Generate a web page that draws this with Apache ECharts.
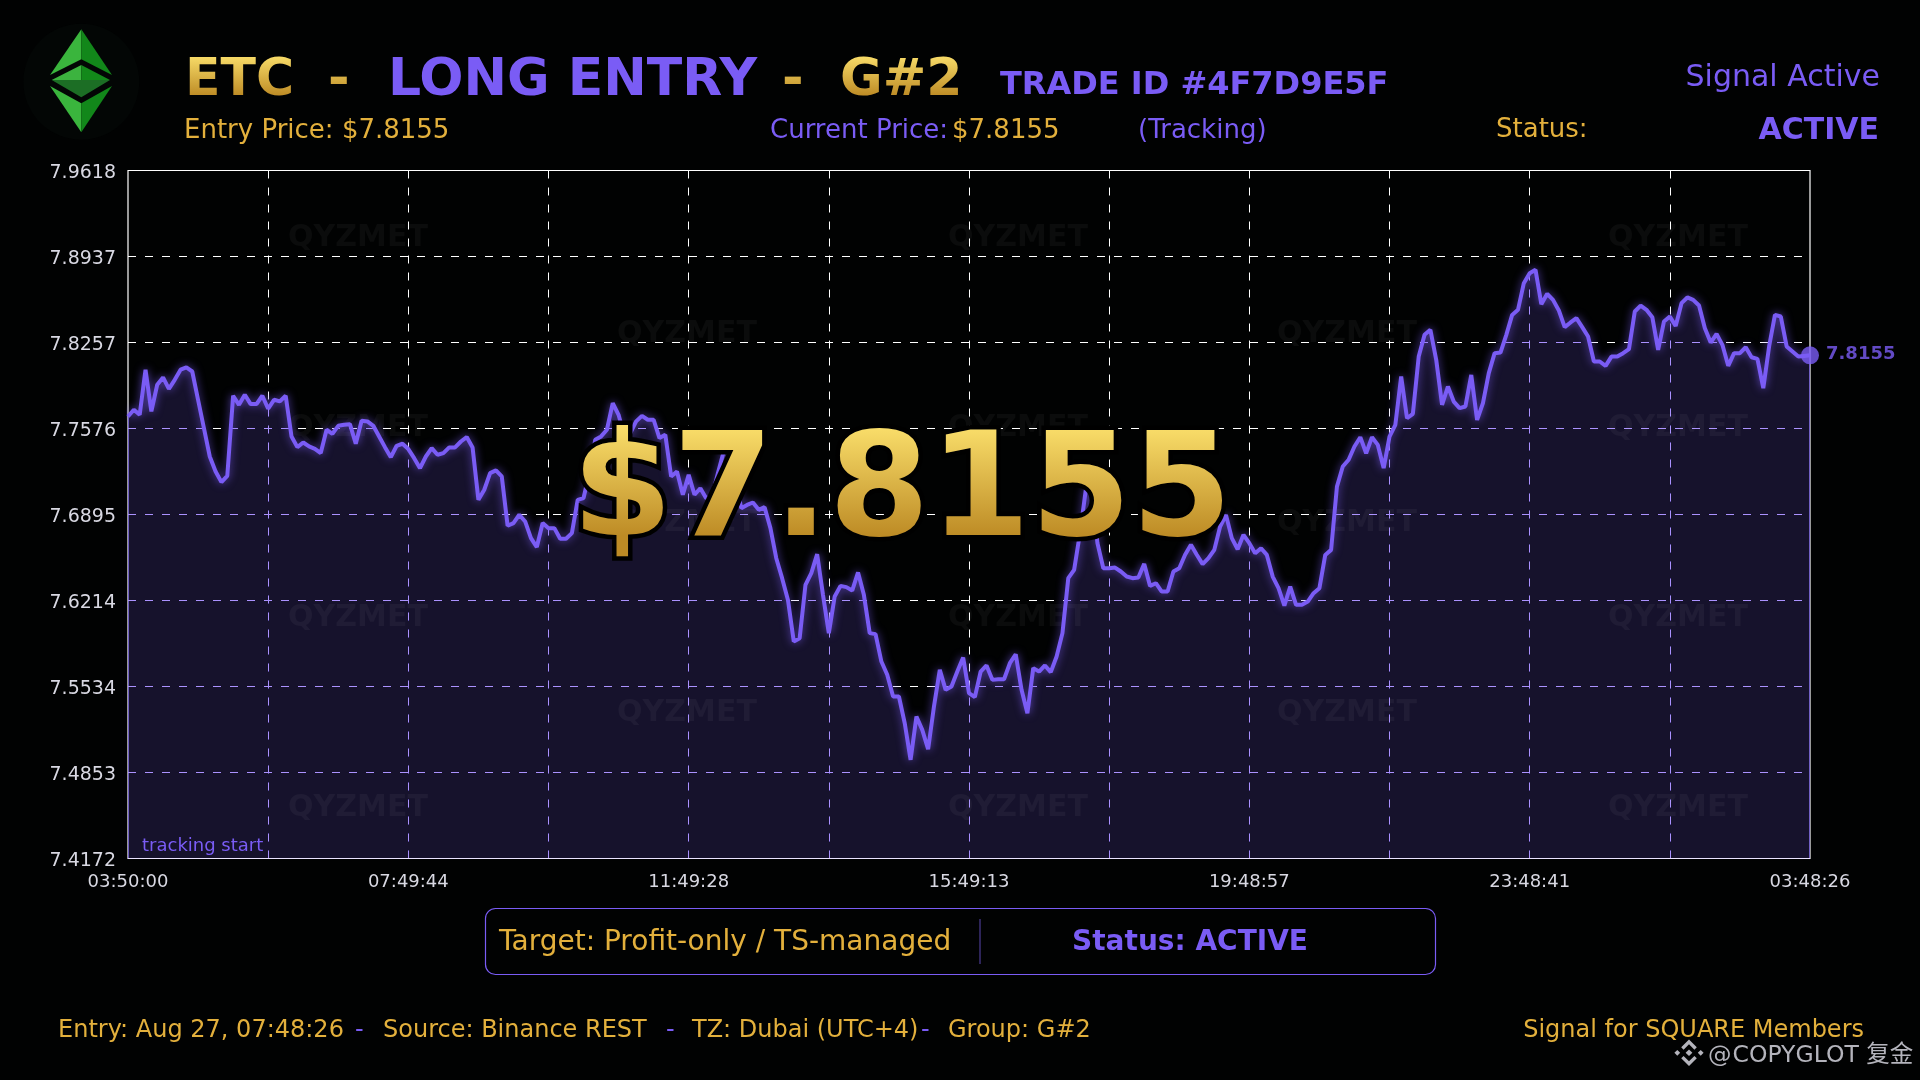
<!DOCTYPE html>
<html>
<head>
<meta charset="utf-8">
<title>ETC LONG ENTRY</title>
<style>html,body{margin:0;padding:0;background:#010202;width:1920px;height:1080px;overflow:hidden}#c{width:1920px;height:1080px}</style>
<script src="https://cdn.jsdelivr.net/npm/echarts@6/dist/echarts.min.js"></script>
</head>
<body>
<div id="c"></div>
<script>
const xTickLabels = ['03:50:00','07:49:44','11:49:28','15:49:13','19:48:57','23:48:41','03:48:26'];
const yTicks = [7.4172,7.4853,7.5534,7.6214,7.6895,7.7576,7.8257,7.8937,7.9618];
const prices = [
7.7671,7.7724,7.7684,7.8041,7.7711,7.7922,7.7980,7.7890,7.7961,7.8041,7.8059,7.8027,7.7803,7.7579,7.7354,7.7236,7.7151,7.7201,7.7835,7.7763,
7.7843,7.7769,7.7769,7.7835,7.7732,7.7803,7.7790,7.7835,7.7513,7.7428,7.7465,7.7434,7.7415,7.7381,7.7566,7.7534,7.7597,7.7605,7.7610,7.7455,
7.7637,7.7632,7.7597,7.7513,7.7428,7.7349,7.7439,7.7455,7.7413,7.7341,7.7262,7.7354,7.7420,7.7368,7.7381,7.7426,7.7426,7.7473,7.7508,7.7426,
7.7011,7.7091,7.7223,7.7244,7.7196,7.6806,7.6827,7.6893,7.6840,7.6708,7.6637,7.6827,7.6787,7.6787,7.6703,7.6703,7.6748,7.7011,7.7025,7.7223,
7.7486,7.7513,7.7566,7.7777,7.7684,7.7513,7.7539,7.7632,7.7676,7.7645,7.7645,7.7500,7.7526,7.7196,7.7235,7.7051,7.7209,7.7051,7.7103,7.7024,
7.7037,7.7222,7.7394,7.7433,7.7169,7.6945,7.6971,7.6990,7.6932,7.6953,7.6787,7.6549,7.6391,7.6219,7.5890,7.5916,7.6338,7.6431,7.6581,7.6259,
7.5956,7.6246,7.6330,7.6320,7.6293,7.6436,7.6259,7.5956,7.5948,7.5731,7.5626,7.5454,7.5454,7.5243,7.4953,7.5296,7.5190,7.5037,7.5375,7.5665,
7.5507,7.5533,7.5652,7.5763,7.5481,7.5449,7.5652,7.5700,7.5586,7.5591,7.5591,7.5718,7.5789,7.5507,7.5322,7.5679,7.5652,7.5700,7.5647,7.5771,
7.5956,7.6391,7.6457,7.6747,7.7090,7.7064,7.6668,7.6470,7.6470,7.6475,7.6444,7.6404,7.6391,7.6396,7.6504,7.6330,7.6351,7.6285,7.6285,7.6444,
7.6470,7.6576,7.6655,7.6576,7.6502,7.6549,7.6615,7.6800,7.6892,7.6708,7.6620,7.6734,7.6668,7.6589,7.6628,7.6575,7.6404,7.6312,7.6174,7.6325,
7.6180,7.6180,7.6206,7.6272,7.6312,7.6575,7.6615,7.7116,7.7275,7.7328,7.7433,7.7507,7.7380,7.7507,7.7446,7.7262,7.7512,7.7605,7.7987,7.7657,
7.7692,7.8145,7.8317,7.8357,7.8119,7.7763,7.7908,7.7789,7.7737,7.7750,7.8000,7.7644,7.7776,7.8014,7.8172,7.8177,7.8317,7.8475,7.8515,7.8726,
7.8805,7.8832,7.8560,7.8642,7.8594,7.8510,7.8378,7.8415,7.8449,7.8378,7.8304,7.8106,7.8106,7.8072,7.8145,7.8145,7.8172,7.8204,7.8502,7.8549,
7.8515,7.8457,7.8198,7.8423,7.8462,7.8388,7.8568,7.8613,7.8594,7.8549,7.8370,7.8256,7.8325,7.8238,7.8072,7.8172,7.8172,7.8219,7.8140,7.8127,
7.7895,7.8225,7.8475,7.8462,7.8225,7.8185,7.8145,7.8150,7.8155
];
const watermark = 'QYZMET';
const lastPrice = prices[prices.length - 1];

const PURPLE = '#7a5cf5', GOLD = '#e3b03c', FONT = '"DejaVu Sans","Noto Sans CJK SC",sans-serif';
const categories = prices.map((_, i) => i % 48 === 0 ? xTickLabels[i / 48] : '');

// gold text: the renderer only accepts string fills for text, so a marker colour is
// turned into a vertical gradient at the moment the real text is painted
const GOLD_TITLE = '#fbe06b', GOLD_BIG = '#fbe06a';
const proto = CanvasRenderingContext2D.prototype, nativeFill = proto.fillText;
function paintGold(ctx, t, x, y, m, y0, y1) {
  const g = ctx.createLinearGradient(0, y0, 0, y1);
  g.addColorStop(0, '#fbe06c');
  g.addColorStop(1, '#bd8b25');
  ctx.save();
  ctx.fillStyle = g;
  nativeFill.call(ctx, t, x, y, m);
  ctx.restore();
}
proto.fillText = function (t, x, y, m) {
  const f = this.fillStyle;
  if (f === GOLD_TITLE) return paintGold(this, t, x, y, m, 54, 96);
  if (f === GOLD_BIG) return paintGold(this, t, x, y, m, 424, 536);
  return m === undefined ? nativeFill.call(this, t, x, y) : nativeFill.call(this, t, x, y, m);
};

function T(text, x, base, size, fill, bold, align, extra) {
  return {
    type: 'text', silent: true, z: (extra && extra.z) || 50,
    style: Object.assign({
      text, x, y: base - 0.246 * size, fill,
      font: (bold ? 'bold ' : '') + size + 'px ' + FONT,
      textAlign: align || 'left', textVerticalAlign: 'middle'
    }, extra && extra.style)
  };
}
function poly(pts, fill) {
  return { type: 'polygon', silent: true, z: 50, shape: { points: pts }, style: { fill } };
}

const els = [];
// watermark grid
[[358, 235], [1018, 235], [1678, 235], [687, 331], [1347, 331], [358, 425], [1018, 425], [1678, 425],
 [687, 520], [1347, 520], [358, 615], [1018, 615], [1678, 615], [687, 710], [1347, 710], [358, 805], [1018, 805], [1678, 805]]
  .forEach(p => els.push(Object.assign(T(watermark, p[0], p[1] + 11, 30, 'rgba(255,255,255,0.045)', true, 'center'), { z: 3 })));

// logo
els.push({ type: 'circle', silent: true, z: 49, shape: { cx: 81.3, cy: 81.7, r: 58 }, style: { fill: '#030605' } });
els.push(poly([[81.3, 29.3], [50, 75], [81.3, 59.3]], '#3ab53d'));
els.push(poly([[81.3, 29.3], [112, 75], [81.3, 59.3]], '#12871a'));
els.push(poly([[81.3, 65], [51.7, 80], [81.3, 80]], '#3cb33f'));
els.push(poly([[81.3, 65], [110, 80], [81.3, 80]], '#13891a'));
els.push(poly([[51.7, 80], [110, 80], [81.3, 97.3]], '#1c6e25'));
els.push(poly([[50, 86], [81.3, 103.3], [81.3, 132.3]], '#3ab53d'));
els.push(poly([[112, 86], [81.3, 103.3], [81.3, 132.3]], '#12871a'));

// header
els.push(T('ETC', 185, 94, 52, GOLD_TITLE, true));
els.push(T('-', 328, 94, 52, GOLD_TITLE, true));
els.push(T('LONG ENTRY', 388, 94, 52, PURPLE, true));
els.push(T('-', 782, 94, 52, GOLD_TITLE, true));
els.push(T('G#2', 840, 94, 52, GOLD_TITLE, true));
els.push(T('TRADE ID #4F7D9E5F', 1000, 94, 32, PURPLE, true));
els.push(T('Signal Active', 1880, 86, 30, PURPLE, false, 'right'));
els.push(T('Entry Price: $7.8155', 184, 138, 26, GOLD));
els.push(T('Current Price:', 770, 138, 26, PURPLE));
els.push(T('$7.8155', 952, 138, 26, GOLD));
els.push(T('(Tracking)', 1138, 138, 26, PURPLE));
els.push(T('Status:', 1496, 137, 26, GOLD));
els.push(T('ACTIVE', 1879, 139, 30, PURPLE, true, 'right'));

// big price
els.push(T('$7.8155', 902, 533, 145, GOLD_BIG, true, 'center',
  { z: 60, style: { stroke: '#000', lineWidth: 9, lineJoin: 'round', strokeFirst: true } }));

els.push(T('tracking start', 142, 851, 18, PURPLE));

// target panel
els.push({ type: 'rect', silent: true, z: 50, shape: { x: 485.5, y: 908.5, width: 950, height: 66, r: 10 },
  style: { fill: 'transparent', stroke: PURPLE, lineWidth: 1.2 } });
els.push({ type: 'line', silent: true, z: 50, shape: { x1: 980, y1: 919, x2: 980, y2: 964 }, style: { stroke: '#5a46b0', lineWidth: 1 } });
els.push(T('Target: Profit-only / TS-managed', 499, 950, 28, GOLD));
els.push(T('Status: ACTIVE', 1190, 950, 28, PURPLE, true, 'center'));

// footer
els.push(T('Entry: Aug 27, 07:48:26', 58, 1037, 24, GOLD));
els.push(T('-', 355, 1037, 24, PURPLE));
els.push(T('Source: Binance REST', 383, 1037, 24, GOLD));
els.push(T('-', 666, 1037, 24, PURPLE));
els.push(T('TZ: Dubai (UTC+4)', 692, 1037, 24, GOLD));
els.push(T('-', 921, 1037, 24, PURPLE));
els.push(T('Group: G#2', 948, 1037, 24, GOLD));
els.push(T('Signal for SQUARE Members', 1864, 1037, 24, GOLD, false, 'right'));

// corner mark
const W = '#b4b4bc';
els.push(T('@', 1708, 1062, 23.5, W));
els.push(T('COPYGLOT 复金', 1732.5, 1062, 23.5, W));
els.push(poly([[1689, 1049.5], [1692.4, 1052.8], [1689, 1056.1], [1685.6, 1052.8]], W));
els.push(poly([[1677.3, 1049.9], [1680.2, 1052.8], [1677.3, 1055.7], [1674.4, 1052.8]], W));
els.push(poly([[1700.7, 1049.9], [1703.6, 1052.8], [1700.7, 1055.7], [1697.8, 1052.8]], W));
els.push(poly([[1689, 1039.5], [1696.8, 1047.3], [1694.4, 1049.7], [1689, 1044.3], [1683.6, 1049.7], [1681.2, 1047.3]], W));
els.push(poly([[1689, 1066.1], [1696.8, 1058.3], [1694.4, 1055.9], [1689, 1061.3], [1683.6, 1055.9], [1681.2, 1058.3]], W));

const base = { type: 'line', data: prices, showSymbol: false, silent: true, lineStyle: { width: 0, opacity: 0 } };
const grid = '#ffffff';
const option = {
  backgroundColor: '#010202',
  animation: false,
  grid: { left: 128, right: 110, top: 170.5, bottom: 221.5, show: true, borderColor: '#fff', borderWidth: 1.2 },
  xAxis: {
    type: 'category', data: categories, boundaryGap: false,
    axisLine: { show: false }, axisTick: { show: false },
    axisLabel: { interval: i => i % 48 === 0, color: '#d8d8e2', fontSize: 18, fontFamily: FONT, margin: 15 },
    splitLine: { show: true, interval: i => i % 24 === 0 && i > 0 && i < 288,
      lineStyle: { color: grid, width: 1, type: [8, 9] } }
  },
  yAxis: {
    type: 'value', min: 7.4172, max: 7.9618,
    axisLine: { show: false },
    axisTick: { show: false, customValues: yTicks },
    axisLabel: { customValues: yTicks, formatter: v => '{v|' + v.toFixed(4) + '}', margin: 12,
      rich: { v: { color: '#d8d8e2', fontSize: 19, fontFamily: FONT, padding: [5, 0, 0, 0] } } },
    splitLine: { show: true, lineStyle: { color: grid, width: 1, type: [8, 9] } }
  },
  graphic: els,
  series: [
    Object.assign({}, base, { z: 2, blendMode: 'multiply', areaStyle: { color: 'rgb(150,130,255)', opacity: 1 } }),
    Object.assign({}, base, { z: 2, blendMode: 'lighter', areaStyle: { color: 'rgb(21,16,42)', opacity: 1 } }),
    { type: 'line', data: prices, showSymbol: false, silent: true, z: 4,
      lineStyle: { color: PURPLE, width: 4, shadowBlur: 9, shadowColor: 'rgba(122,92,245,0.7)' } },
    { type: 'scatter', data: [[288, lastPrice]], symbolSize: 18, z: 5, silent: true, clip: false,
      itemStyle: { color: PURPLE },
      label: { show: true, position: 'right', distance: 7, offset: [0, -1], color: PURPLE, fontFamily: FONT, fontSize: 18, fontWeight: 'bold',
        formatter: p => p.value[1].toFixed(4) } }
  ]
};
echarts.init(document.getElementById('c'), null, { renderer: 'canvas' }).setOption(option);
</script>
</body>
</html>
